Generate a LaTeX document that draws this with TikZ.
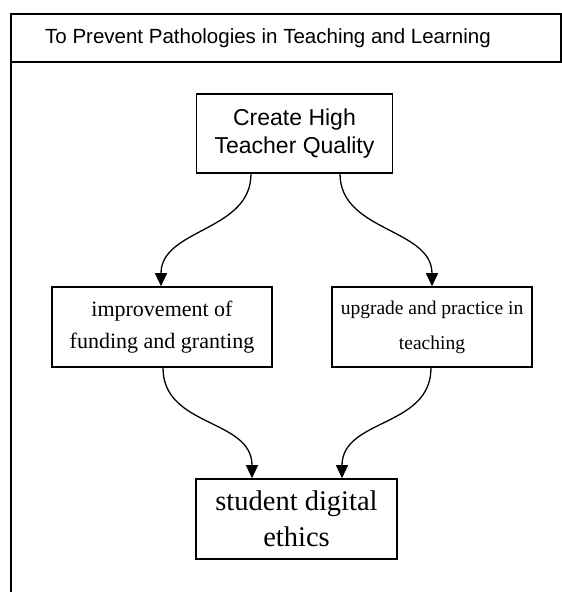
\documentclass[tikz,border=0pt]{standalone}
\usepackage{fontspec}
\setmainfont{Liberation Serif}
\newfontfamily\labelsans{Liberation Sans}
\usetikzlibrary{arrows.meta}

\tikzset{
  box/.style={draw=black, line width=1.6pt, fill=white, inner sep=0pt,
              align=center, anchor=center},
  flow/.style={draw=black, line width=1.3pt,
               -{Triangle[length=13pt,width=12pt]}},
  lane/.style={draw=black, line width=1.8pt}
}

\begin{document}
\begin{tikzpicture}[x=1pt, y=-1pt]
  \useasboundingbox[fill=white] (0,0) rectangle (562,592);

  % pool frame with its title band
  \draw[lane] (11,14) rectangle (561,62);
  \draw[lane] (11,62) -- (11,600);
  \node[font={\labelsans\fontsize{20.5}{24}\selectfont}] (title) at (268,38)
    {To Prevent Pathologies in Teaching and Learning};

  % process boxes
  \node[box, minimum width=196pt, minimum height=79pt,
        font={\labelsans\fontsize{23}{28}\selectfont}] (quality) at (294.5,133.5)
    {Create High\\Teacher Quality};
  \node[box, minimum width=220pt, minimum height=80pt,
        font={\fontsize{22}{32}\selectfont}] (funding) at (162,327)
    {improvement of\\funding and granting};
  \node[box, minimum width=200pt, minimum height=80pt,
        font={\fontsize{19.5}{35}\selectfont}] (practice) at (432,327)
    {upgrade and practice in\\teaching};
  \node[box, minimum width=201pt, minimum height=80pt,
        font={\fontsize{28.5}{36}\selectfont}] (ethics) at (296.5,519)
    {student digital\\ethics};

  % connectors
  \draw[flow] ([xshift=-43.5pt]quality.south) .. controls +(0,58) and +(0,-58) .. ([xshift=-1pt]funding.north);
  \draw[flow] ([xshift=45.5pt]quality.south) .. controls +(0,58) and +(0,-58) .. (practice.north);
  \draw[flow] ([xshift=1pt]funding.south) .. controls +(0,60) and +(0,-60) .. ([xshift=-44.5pt]ethics.north);
  \draw[flow] ([xshift=-1pt]practice.south) .. controls +(0,60) and +(0,-60) .. ([xshift=45.5pt]ethics.north);
\end{tikzpicture}
\end{document}
